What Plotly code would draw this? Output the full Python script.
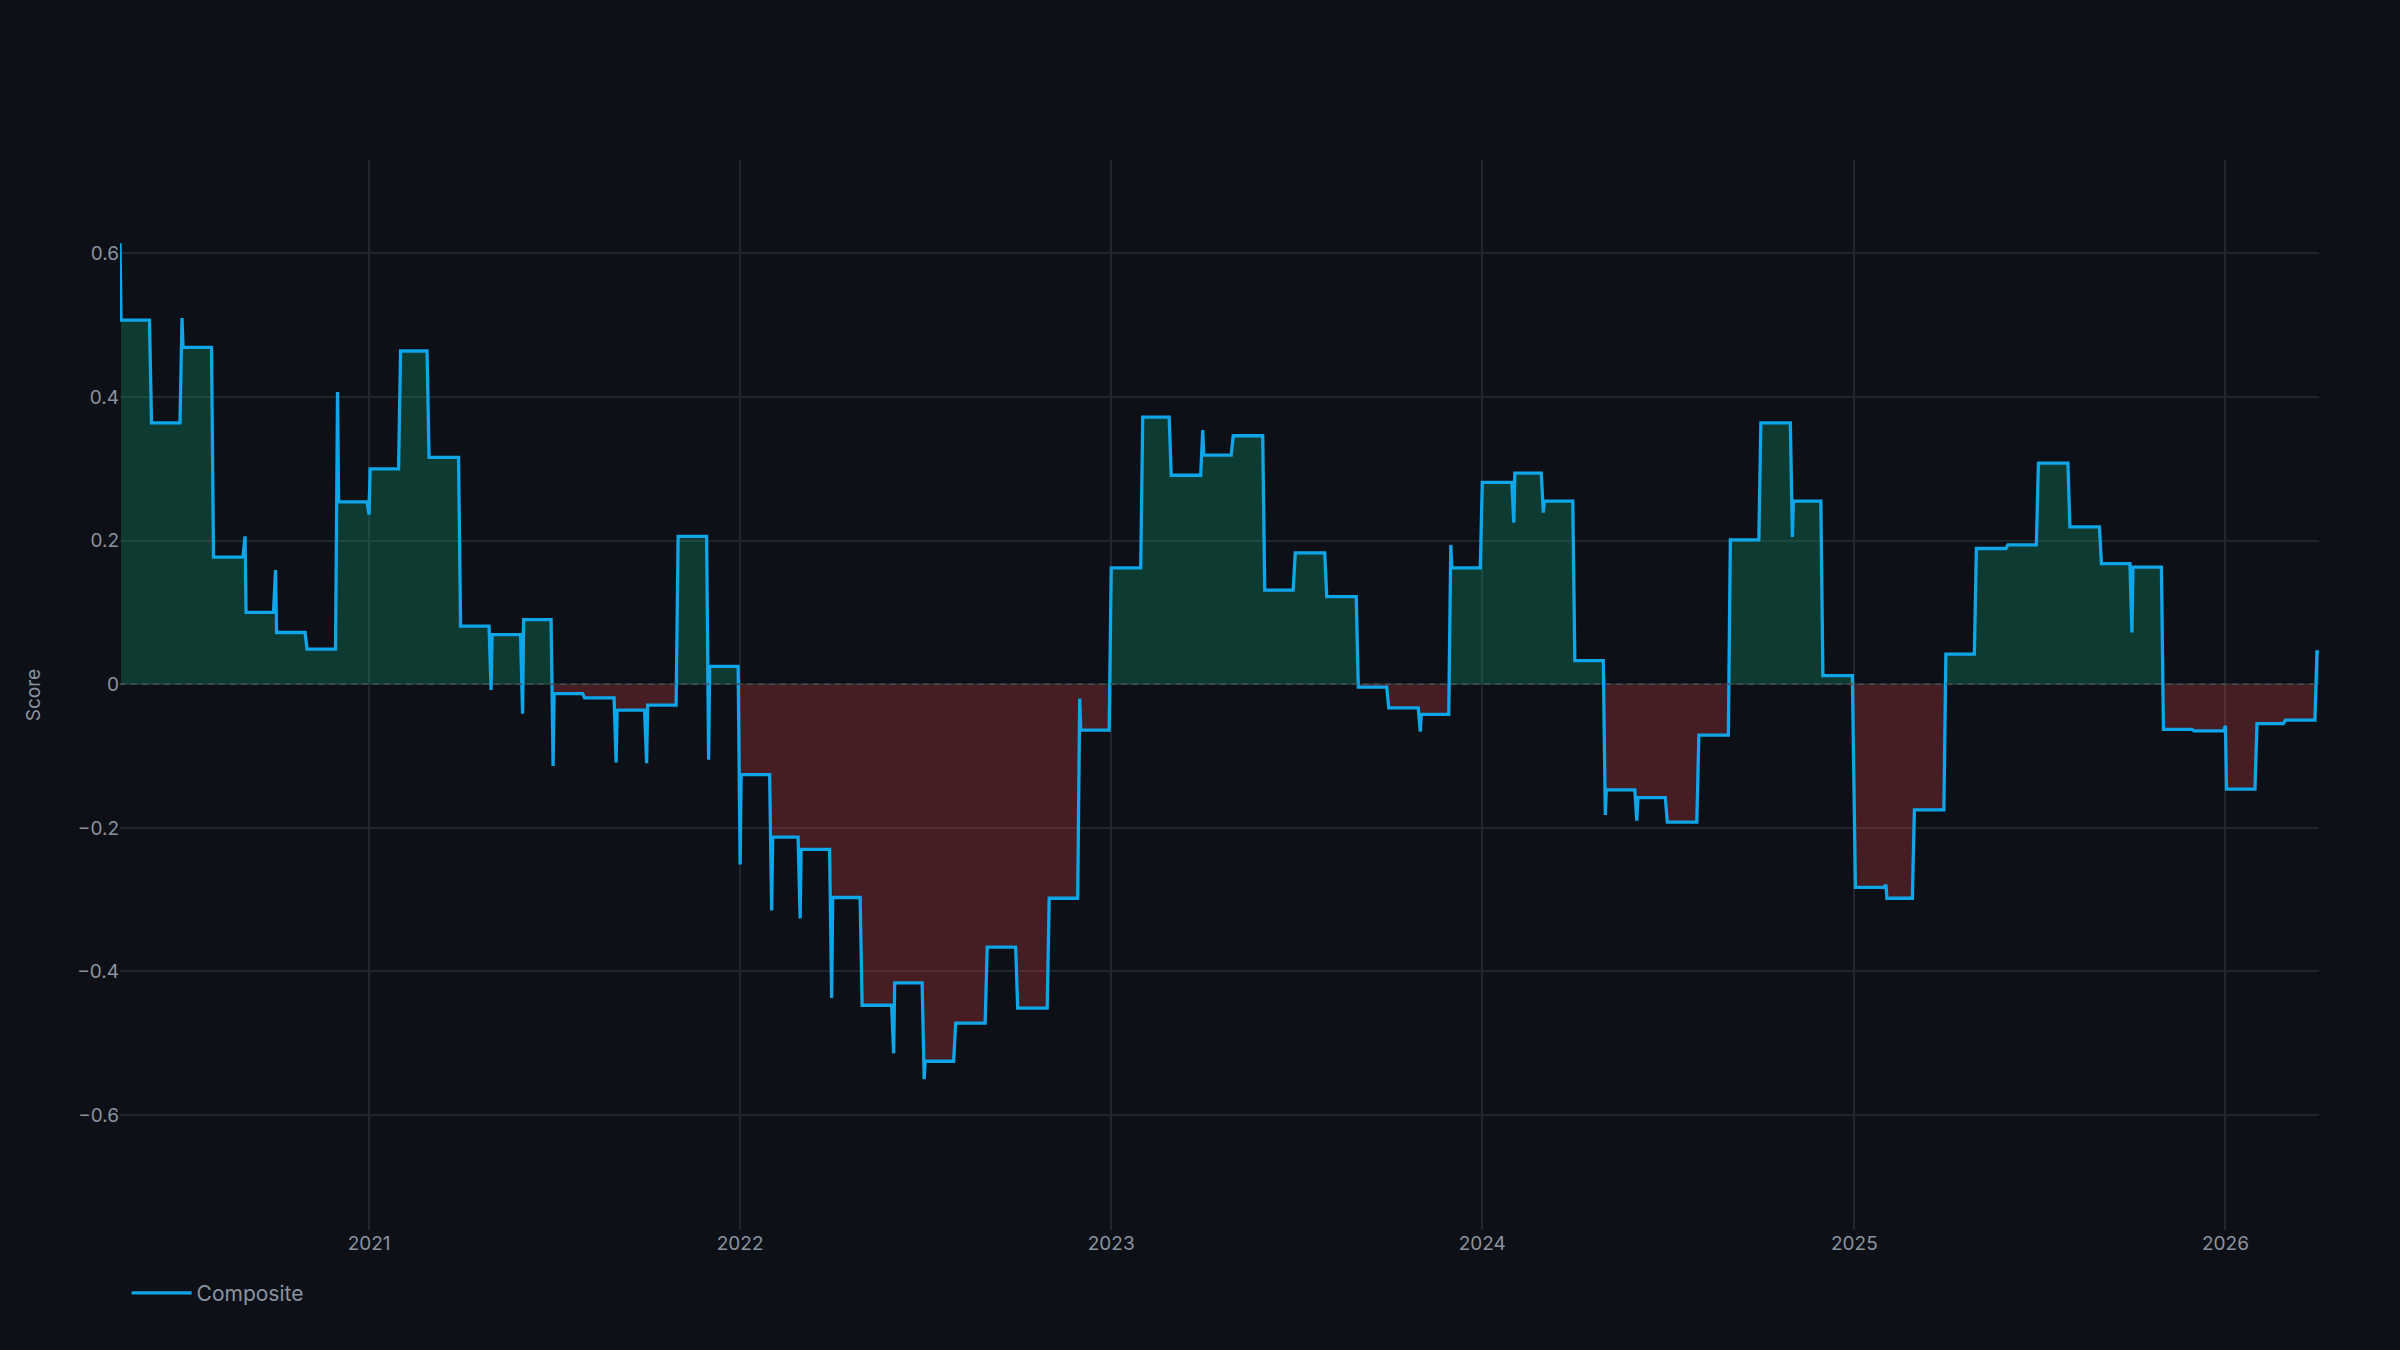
import pandas as pd
import plotly.graph_objects as go

# Composite score, one level per month (held for the whole month)
months = [
    "2020-05", "2020-06", "2020-07", "2020-08", "2020-09", "2020-10", "2020-11", "2020-12",
    "2021-01", "2021-02", "2021-03", "2021-04", "2021-05", "2021-06", "2021-07", "2021-08",
    "2021-09", "2021-10", "2021-11", "2021-12",
    "2022-01", "2022-02", "2022-03", "2022-04", "2022-05", "2022-06", "2022-07", "2022-08",
    "2022-09", "2022-10", "2022-11", "2022-12",
    "2023-01", "2023-02", "2023-03", "2023-04", "2023-05", "2023-06", "2023-07", "2023-08",
    "2023-09", "2023-10", "2023-11", "2023-12",
    "2024-01", "2024-02", "2024-03", "2024-04", "2024-05", "2024-06", "2024-07", "2024-08",
    "2024-09", "2024-10", "2024-11", "2024-12",
    "2025-01", "2025-02", "2025-03", "2025-04", "2025-05", "2025-06", "2025-07", "2025-08",
    "2025-09", "2025-10", "2025-11", "2025-12",
    "2026-01", "2026-02", "2026-03", "2026-04",
]
level = [
    0.507, 0.364, 0.469, 0.177, 0.100, 0.072, 0.049, 0.254,
    0.300, 0.464, 0.316, 0.081, 0.069, 0.090, -0.013, -0.019,
    -0.036, -0.029, 0.206, 0.025,
    -0.126, -0.213, -0.230, -0.297, -0.447, -0.416, -0.525, -0.472,
    -0.366, -0.451, -0.298, -0.064,
    0.162, 0.372, 0.291, 0.319, 0.346, 0.131, 0.183, 0.122,
    -0.004, -0.033, -0.042, 0.162,
    0.281, 0.294, 0.255, 0.033, -0.147, -0.158, -0.192, -0.071,
    0.201, 0.364, 0.255, 0.012,
    -0.283, -0.298, -0.175, 0.042, 0.189, 0.194, 0.308, 0.219,
    0.168, 0.163, -0.063, -0.065,
    -0.146, -0.055, -0.050, 0.045,
]
# reading on the first session of the month (rebalance day), None = no spike
first_day = [
    0.614, None, 0.510, None, 0.206, 0.159, None, 0.407,
    0.236, None, None, None, -0.008, -0.041, -0.114, None,
    -0.109, -0.110, None, -0.105,
    -0.251, -0.315, -0.326, -0.437, None, -0.514, -0.550, None,
    None, None, None, -0.020,
    None, None, None, 0.354, None, None, None, None,
    None, None, -0.066, 0.194,
    None, 0.225, 0.239, None, -0.182, -0.190, None, None,
    None, None, 0.205, None,
    -0.248, -0.279, None, None, None, None, None, None,
    None, 0.072, None, None,
    -0.058, None, None, None,
]
last_date = "2026-04-03"

BG = "#0d1117"
GRID = "#21262d"
TEXT = "#8b949e"
LINE = "#0ea5e9"


def buildPath(with_spikes):
    '''
    월별 수준값으로 선의 꼭짓점을 만든다. with_spikes=False 이면 채우기용.
    '''
    xs, ys = [], []
    for i, m in enumerate(months):
        start = pd.Timestamp(m + "-01")
        end = start + pd.offsets.MonthEnd(0) - pd.Timedelta(days=1)
        if i == len(months) - 1:
            end = pd.Timestamp(last_date)
        if first_day[i] is not None:
            if with_spikes:
                xs.append(start)
                ys.append(first_day[i])
            xs.append(start + pd.Timedelta(days=1))
        else:
            xs.append(start)
        ys.append(level[i])
        xs.append(end)
        ys.append(level[i])
    return xs, ys


line_x, line_y = buildPath(True)
fill_x, fill_y = buildPath(False)

fig = go.Figure()
# 양수 구간 (green)
fig.add_trace(go.Scatter(
    x=fill_x, y=[max(v, 0) for v in fill_y], mode="lines", fill="tozeroy",
    fillcolor="rgba(16,185,129,0.25)", line=dict(width=0), showlegend=False, hoverinfo="skip"))
# 음수 구간 (red)
fig.add_trace(go.Scatter(
    x=fill_x, y=[min(v, 0) for v in fill_y], mode="lines", fill="tozeroy",
    fillcolor="rgba(239,68,68,0.25)", line=dict(width=0), showlegend=False, hoverinfo="skip"))
fig.add_trace(go.Scatter(
    x=line_x, y=line_y, mode="lines", name="Composite",
    line=dict(color=LINE, width=3.3)))

fig.add_hline(y=0, line=dict(color="#454b54", width=1.5, dash="6px,5px"))

fig.update_layout(
    paper_bgcolor=BG,
    plot_bgcolor=BG,
    font=dict(family="Inter, Roboto, sans-serif", color=TEXT, size=19),
    margin=dict(l=120, r=81, t=160, b=120),
    showlegend=True,
    legend=dict(orientation="h", x=0.003, xanchor="left", y=-0.04, yanchor="top",
                itemwidth=60, font=dict(size=21, color=TEXT), bgcolor="rgba(0,0,0,0)"),
    xaxis=dict(type="date", range=[months[0] + "-01", last_date], dtick="M12",
               tickformat="%Y", showgrid=True, gridcolor=GRID, gridwidth=1.5,
               zeroline=False, showline=False, tickfont=dict(size=19, color=TEXT)),
    yaxis=dict(range=[-0.76, 0.73], dtick=0.2, showgrid=True, gridcolor=GRID,
               gridwidth=1.5, zeroline=False, showline=False,
               tickfont=dict(size=19, color=TEXT),
               title=dict(text="Score", standoff=31, font=dict(size=19, color=TEXT))),
)

# 페이지 여백 제거 후 다시 맞춤
fig.write_html(
    "out.html",
    config={"displayModeBar": False},
    post_script=("document.body.style.margin='0';"
                 "document.body.style.background='#0d1117';"
                 "Plotly.Plots.resize(document.getElementById('{plot_id}'));"),
)
